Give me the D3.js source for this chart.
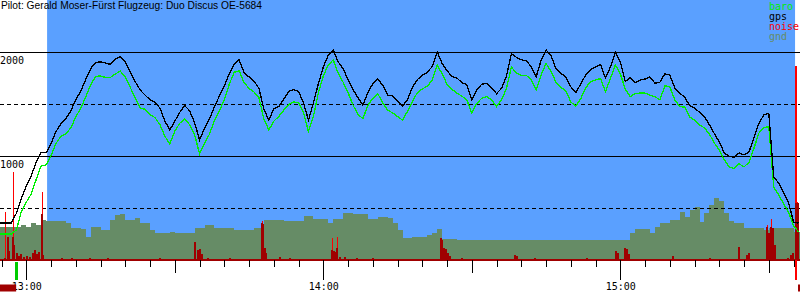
<!DOCTYPE html>
<html>
<head>
<meta charset="utf-8">
<script src="https://cdn.jsdelivr.net/npm/d3@7"></script>
<style>
body { margin: 0; background: #fff; }
svg { display: block; }
</style>
</head>
<body>
<svg id="chart" width="800" height="300"></svg>
<script>
var title = "Pilot: Gerald Moser-Fürst Flugzeug: Duo Discus OE-5684";

// time of each sample, minutes after 13:00
var minutes = [
  -6,-5,-4,-3,-2,-1,0,1,2,3,4,5,6,7,8,9,
  10,11,12,13,14,15,16,17,18,19,20,21,22,23,24,25,26,27,28,29,
  30,31,32,33,34,35,36,37,38,39,40,41,42,43,44,45,46,47,48,49,
  50,51,52,53,54,55,56,57,58,59,60,61,62,63,64,65,66,67,68,69,
  70,71,72,73,74,75,76,77,78,79,80,81,82,83,84,85,86,87,88,89,
  90,91,92,93,94,95,96,97,98,99,100,101,102,103,104,105,106,107,108,109,
  110,111,112,113,114,115,116,117,118,119,120,121,122,123,124,125,126,127,128,129,
  130,131,132,133,134,135,136,137,138,139,140,141,142,143,144,145,146,147,148,149,
  150,151,152,153,154,155,156
];

var gpsAlt = [
  355,355,355,355,450,595,710,810,940,1035,1030,1120,1235,1310,1360,1435,
  1540,1625,1735,1840,1900,1905,1895,1880,1935,1955,
  1905,1805,1715,1635,1585,1540,1515,1460,1335,1250,
  1335,1420,1485,1435,1320,1155,1265,1355,1475,1575,
  1675,1790,1885,1925,1800,1760,1720,1650,1450,1345,
  1455,1475,1545,1620,1640,1620,1510,1345,1510,1695,
  1855,1970,2020,1905,1840,1735,1640,1560,1490,1610,
  1695,1740,1680,1585,1580,1530,1480,1540,1660,1735,
  1775,1805,1860,2000,1890,1820,1765,1750,1705,1685,
  1540,1635,1690,1700,1655,1600,1650,1770,1985,1950,
  1925,1915,1860,1760,1920,2020,1965,1840,1795,1760,
  1665,1610,1690,1780,1830,1855,1880,1750,1855,2000,
  1905,1715,1755,1705,1730,1740,1760,1700,1710,1790,
  1780,1655,1605,1565,1485,1460,1420,1380,1300,1215,
  1135,1030,995,990,1030,1010,1040,1175,1315,1395,
  1410,795,740,650,550,365,355
];

var baroAlt = [
  250,250,250,250,290,465,555,635,775,905,915,1005,1120,1190,1215,1270,
  1375,1460,1565,1685,1765,1770,1755,1755,1790,1815,
  1760,1660,1560,1460,1450,1395,1370,1300,1190,1115,
  1240,1315,1355,1300,1205,1020,1125,1210,1340,1435,
  1540,1690,1805,1820,1705,1650,1615,1560,1355,1250,
  1335,1380,1440,1495,1520,1510,1415,1235,1380,1605,
  1770,1875,1925,1795,1710,1610,1490,1400,1360,1485,
  1555,1600,1510,1440,1415,1380,1345,1430,1525,1610,
  1645,1670,1730,1875,1790,1690,1640,1605,1575,1540,
  1410,1505,1555,1570,1540,1475,1540,1650,1855,1800,
  1775,1775,1735,1635,1780,1890,1815,1710,1660,1625,
  1520,1480,1550,1655,1715,1730,1745,1620,1745,1875,
  1790,1645,1570,1600,1605,1605,1585,1570,1540,1675,
  1665,1540,1475,1470,1375,1345,1300,1270,1210,1125,
  1055,965,895,880,925,895,940,1075,1220,1275,
  1280,700,625,540,460,330,270
];

var gndAlt = [
  315,315,315,315,315,335,315,355,335,385,375,375,375,375,355,310,
  310,300,220,315,315,290,290,385,435,440,
  385,385,405,355,355,290,260,260,260,270,
  260,260,260,260,310,310,335,335,310,310,
  310,310,290,290,290,290,310,310,385,385,
  385,385,375,375,375,375,425,425,395,395,
  395,355,395,395,450,450,440,440,440,395,
  395,415,415,405,355,290,210,210,220,220,
  220,240,260,300,200,200,200,190,190,190,
  190,190,190,190,190,195,195,190,190,190,
  190,190,190,190,190,190,190,190,190,195,
  195,195,190,190,190,190,190,190,190,190,
  190,190,260,300,300,300,260,315,355,355,
  385,385,460,415,480,510,365,450,530,595,
  565,450,375,355,355,310,310,310,310,290,
  310,310,310,310,310,270,270
];

// engine noise level (0..1000) and short peaks
var noiseTime = [-4.3,-3.7,-3.4,-2.7,-2.4,-1.9,-1.5,-1.1,-0.5,0.1,0.7,1.4,1.8,2.2,2.6,3.1,3.4,7.2,9.2,12.9,16.5,27,
  34.1,34.6,35.1,35.5,36.7,41.1,47.6,47.9,48.2,48.5,51.3,53.3,61.7,62.1,62.4,62.7,63.4,64.4,66.8,70,
  83.7,84,84.4,84.8,85.2,85.6,88,98.8,99.1,102.8,113.3,119.2,119.5,121,121.3,121.7,130.6,138.1,
  144,145.6,146,149.7,150.1,150.5,150.9,151.3,153.9,154.5,154.9,155.5,155.7,155.9];
var noiseLevel = [8,88,35,88,58,27,15,23,12,15,12,27,38,23,31,177,19,8,8,8,8,8,
  69,38,42,23,8,8,142,138,46,27,12,8,38,35,31,46,12,12,8,8,
  85,77,46,42,27,15,8,19,15,8,8,35,27,46,42,23,15,8,
  50,19,27,127,104,127,123,58,8,19,27,219,219,219];
var peakTime = [-4.3,-2.7,3.1,47.6,61.7,62.7,83.7,121,149.7,150.5,155.3,155.5,155.7];
var peakLevel = [185,338,262,150,85,88,85,46,135,158,746,746,223];

var flightSpan = [4.2, 155.3];
var takeoffTime = -2.1;
var landingTime = 155.4;
var motorSpans = [[-5.4, -2.05], [155.9, 156.5]];

var altTicks = [500, 1000, 1500, 2000];
var legendNames = ["baro", "gps", "noise", "gnd"];

var colors = { blue: "#5aa0ff", gnd: "#668c66", baro: "#00ee00", gps: "#000", noise: "#ff0000", dark: "#a00000" };

var svg = d3.select("#chart");
var base = new Date(2000, 0, 1, 13, 0, 0);
function toDate(m) { return new Date(base.getTime() + m * 60000); }

var x = d3.scaleTime().domain([toDate(-5.313), toDate(156.3)]).range([0, 800]);
var yAlt = d3.scaleLinear().domain([0, 2500]).range([260, 0]);
var yNoise = d3.scaleLinear().domain([0, 1000]).range([260, 0]);

var rows = minutes.map(function(m, i) {
  return { t: m, gps: gpsAlt[i], baro: baroAlt[i], gnd: gndAlt[i] };
});

// flight period background
svg.append("rect")
  .attr("x", x(toDate(flightSpan[0])))
  .attr("y", 0)
  .attr("width", x(toDate(flightSpan[1])) - x(toDate(flightSpan[0])))
  .attr("height", 260)
  .attr("fill", colors.blue);

// ground elevation
svg.append("g").attr("shape-rendering", "crispEdges")
  .selectAll("rect").data(rows).enter().append("rect")
  .attr("x", function(d) { return Math.round(x(toDate(d.t))); })
  .attr("width", function(d) { return Math.round(x(toDate(d.t + 1))) - Math.round(x(toDate(d.t))); })
  .attr("y", function(d) { return Math.round(yAlt(d.gnd)); })
  .attr("height", function(d) { return 260 - Math.round(yAlt(d.gnd)); })
  .attr("fill", colors.gnd);

// altitude grid
svg.append("g").attr("shape-rendering", "crispEdges")
  .selectAll("line").data(altTicks).enter().append("line")
  .attr("x1", 0).attr("x2", 800)
  .attr("y1", function(d) { return Math.round(yAlt(d)) + 0.5; })
  .attr("y2", function(d) { return Math.round(yAlt(d)) + 0.5; })
  .attr("stroke", "#000")
  .attr("stroke-dasharray", function(d) { return d % 1000 === 0 ? null : "4,3"; });

svg.append("g").selectAll("text")
  .data(altTicks.filter(function(d) { return d % 1000 === 0; }))
  .enter().append("text")
  .attr("x", 0)
  .attr("y", function(d) { return yAlt(d) + 12; })
  .attr("font-family", "DejaVu Sans Mono, monospace")
  .attr("font-size", 10)
  .text(function(d) { return d; });

// noise
var noiseG = svg.append("g").attr("shape-rendering", "crispEdges");
noiseG.selectAll("line").data(peakTime).enter().append("line")
  .attr("x1", function(d) { return Math.round(x(toDate(d))) + 0.5; })
  .attr("x2", function(d) { return Math.round(x(toDate(d))) + 0.5; })
  .attr("y1", function(d, i) { return yNoise(peakLevel[i]); })
  .attr("y2", 260)
  .attr("stroke", colors.noise);
noiseG.selectAll("rect").data(noiseTime).enter().append("rect")
  .attr("x", function(d) { return Math.round(x(toDate(d))) - 1; })
  .attr("width", 2)
  .attr("y", function(d, i) { return Math.round(yNoise(noiseLevel[i])); })
  .attr("height", function(d, i) { return 260 - Math.round(yNoise(noiseLevel[i])); })
  .attr("fill", colors.dark);
svg.append("rect").attr("x", 0).attr("y", 259).attr("width", 800).attr("height", 2)
  .attr("fill", colors.dark).attr("shape-rendering", "crispEdges");

// altitude lines
function altLine(key) {
  return d3.line()
    .x(function(d) { return x(toDate(d.t)); })
    .y(function(d) { return yAlt(d[key]); });
}
svg.append("path").datum(rows)
  .attr("d", altLine("baro"))
  .attr("fill", "none").attr("stroke", colors.baro).attr("stroke-width", 1.3)
  .attr("shape-rendering", "crispEdges");
svg.append("path").datum(rows)
  .attr("d", altLine("gps"))
  .attr("fill", "none").attr("stroke", colors.gps).attr("stroke-width", 1.3)
  .attr("shape-rendering", "crispEdges");

// time axis
var xAxis = d3.axisBottom(x)
  .ticks(d3.timeMinute.every(5))
  .tickSize(7)
  .tickFormat(function(d) { return d.getMinutes() === 0 ? d3.timeFormat("%H:%M")(d) : ""; });
var gx = svg.append("g").attr("transform", "translate(0,260)").call(xAxis);
gx.select(".domain").remove();
gx.attr("font-family", "DejaVu Sans Mono, monospace").attr("font-size", 10);
gx.selectAll(".tick line")
  .attr("shape-rendering", "crispEdges")
  .attr("y2", function(d) { var m = d.getMinutes(); return m === 0 ? 20 : (m === 30 ? 13 : 7); });
gx.selectAll(".tick text").attr("y", 30).attr("dy", null).attr("fill", "#000");

// takeoff / landing / motor markers
svg.append("rect").attr("x", Math.round(x(toDate(takeoffTime))) - 1).attr("y", 262)
  .attr("width", 3).attr("height", 18).attr("fill", "#00cc00");
svg.append("rect").attr("x", Math.round(x(toDate(landingTime))) - 1).attr("y", 260)
  .attr("width", 2).attr("height", 20).attr("fill", colors.noise);
svg.append("g").selectAll("rect").data(motorSpans).enter().append("rect")
  .attr("x", function(d) { return Math.max(0, x(toDate(d[0]))); })
  .attr("width", function(d) { return x(toDate(d[1])) - Math.max(0, x(toDate(d[0]))); })
  .attr("y", 284.5).attr("height", 7)
  .attr("fill", colors.dark);

// legend
var legendColors = [colors.baro, colors.gps, colors.noise, colors.gnd];
svg.append("g").selectAll("text").data(legendNames).enter().append("text")
  .attr("x", 769)
  .attr("y", function(d, i) { return 10 + i * 10; })
  .attr("font-family", "DejaVu Sans Mono, monospace")
  .attr("font-size", 10)
  .attr("fill", function(d, i) { return legendColors[i]; })
  .text(function(d) { return d; });

// title
svg.append("text")
  .attr("x", 1).attr("y", 8.5)
  .attr("font-family", "Liberation Sans, Arial, sans-serif")
  .attr("font-size", 11)
  .attr("textLength", 261)
  .attr("lengthAdjust", "spacingAndGlyphs")
  .text(title);
</script>
</body>
</html>
